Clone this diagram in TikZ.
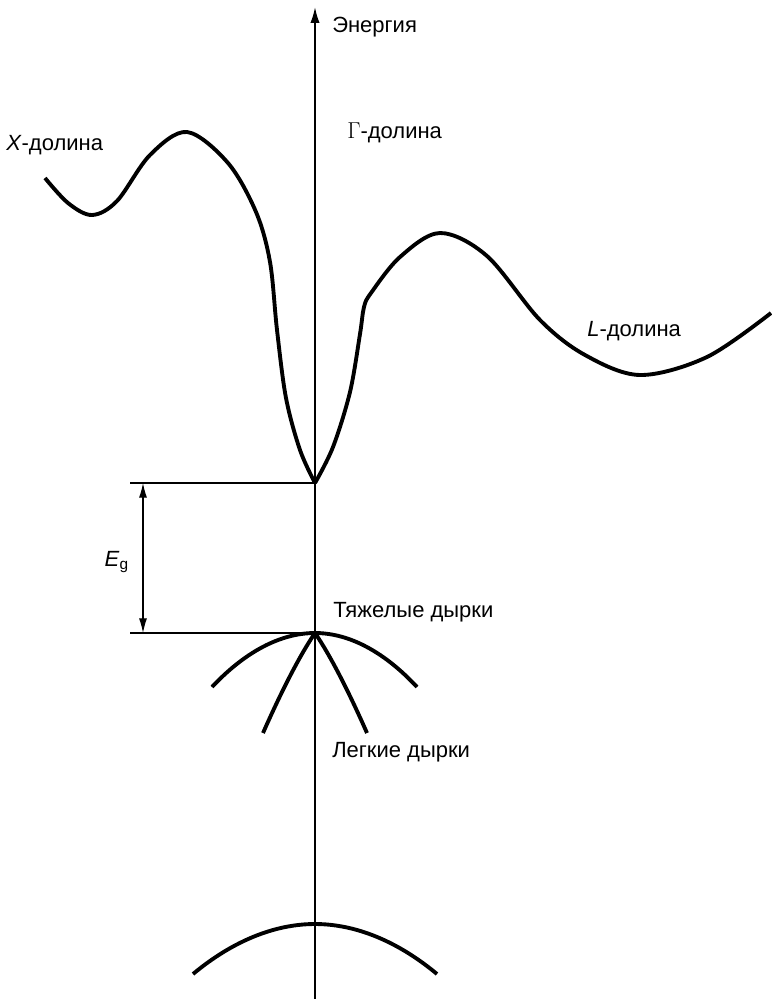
\documentclass[tikz,border=0pt]{standalone}
\usepackage{fontspec}
\setmainfont{Liberation Sans}
\usetikzlibrary{arrows.meta}

\begin{document}
\begin{tikzpicture}[x=0.75pt, y=-0.75pt, >={Latex[length=11pt,width=6pt]},
  band/.style={line width=2.9pt, line join=round},
  guide/.style={line width=0.8pt},
  lbl/.style={anchor=base west, inner sep=0pt, font=\fontsize{16.5}{19}\selectfont}]
\useasboundingbox (0,0) rectangle (771,999);
% axis
\coordinate (axbot) at (315,999);
\coordinate (axtop) at (315,7);
\draw[line width=1.4pt, -{Latex[length=12pt,width=7pt]}] (axbot) -- (axtop);
\node[lbl] (energy) at (332,33) {Энергия};
% conduction band
\coordinate (cmin) at (315,483);
\draw[band] plot[smooth, tension=0.55] coordinates {(45,178) (68,203) (92,215) (117,201)
  (150,155) (187,132) (228,163) (256,212) (270,262) (277,330) (286,398) (300,450) (cmin)};
\draw[band] plot[smooth, tension=0.55] coordinates {(cmin) (333,447) (350,392)
  (360,334) (364,307) (371,293) (400,257) (440,233) (487,256) (540,320) (585,355)
  (640,375) (707,357) (771,313)};
\node[lbl] (xval) at (6,150) {\textit{X}-долина};
\node[lbl] (gval) at (347,138) {$\Gamma$-долина};
\node[lbl] (lval) at (587,336) {\textit{L}-долина};
% band gap
\coordinate (vmax) at (315,633);
\coordinate (gtop) at (130,483);
\coordinate (gbot) at (130,633);
\draw[guide] (gtop) -- (cmin);
\draw[guide] (gbot) -- (vmax);
\draw[guide, <->] (143,483) -- (143,633);
\node[lbl, anchor=base east] (eg) at (129,566) {\textit{E}\textsubscript{g}};
% valence bands
\draw[band] (212,687) parabola bend (vmax) (417,687);
\draw[band] (263,733) .. controls (282,690) and (300,655) .. (vmax);
\draw[band] (367,733) .. controls (348,690) and (330,655) .. (vmax);
\node[lbl] (heavy) at (333,617) {Тяжелые дырки};
\node[lbl] (light) at (332,757) {Легкие дырки};
\coordinate (somax) at (315,924);
\draw[band] (193,974) parabola bend (somax) (437,974);
\end{tikzpicture}
\end{document}
